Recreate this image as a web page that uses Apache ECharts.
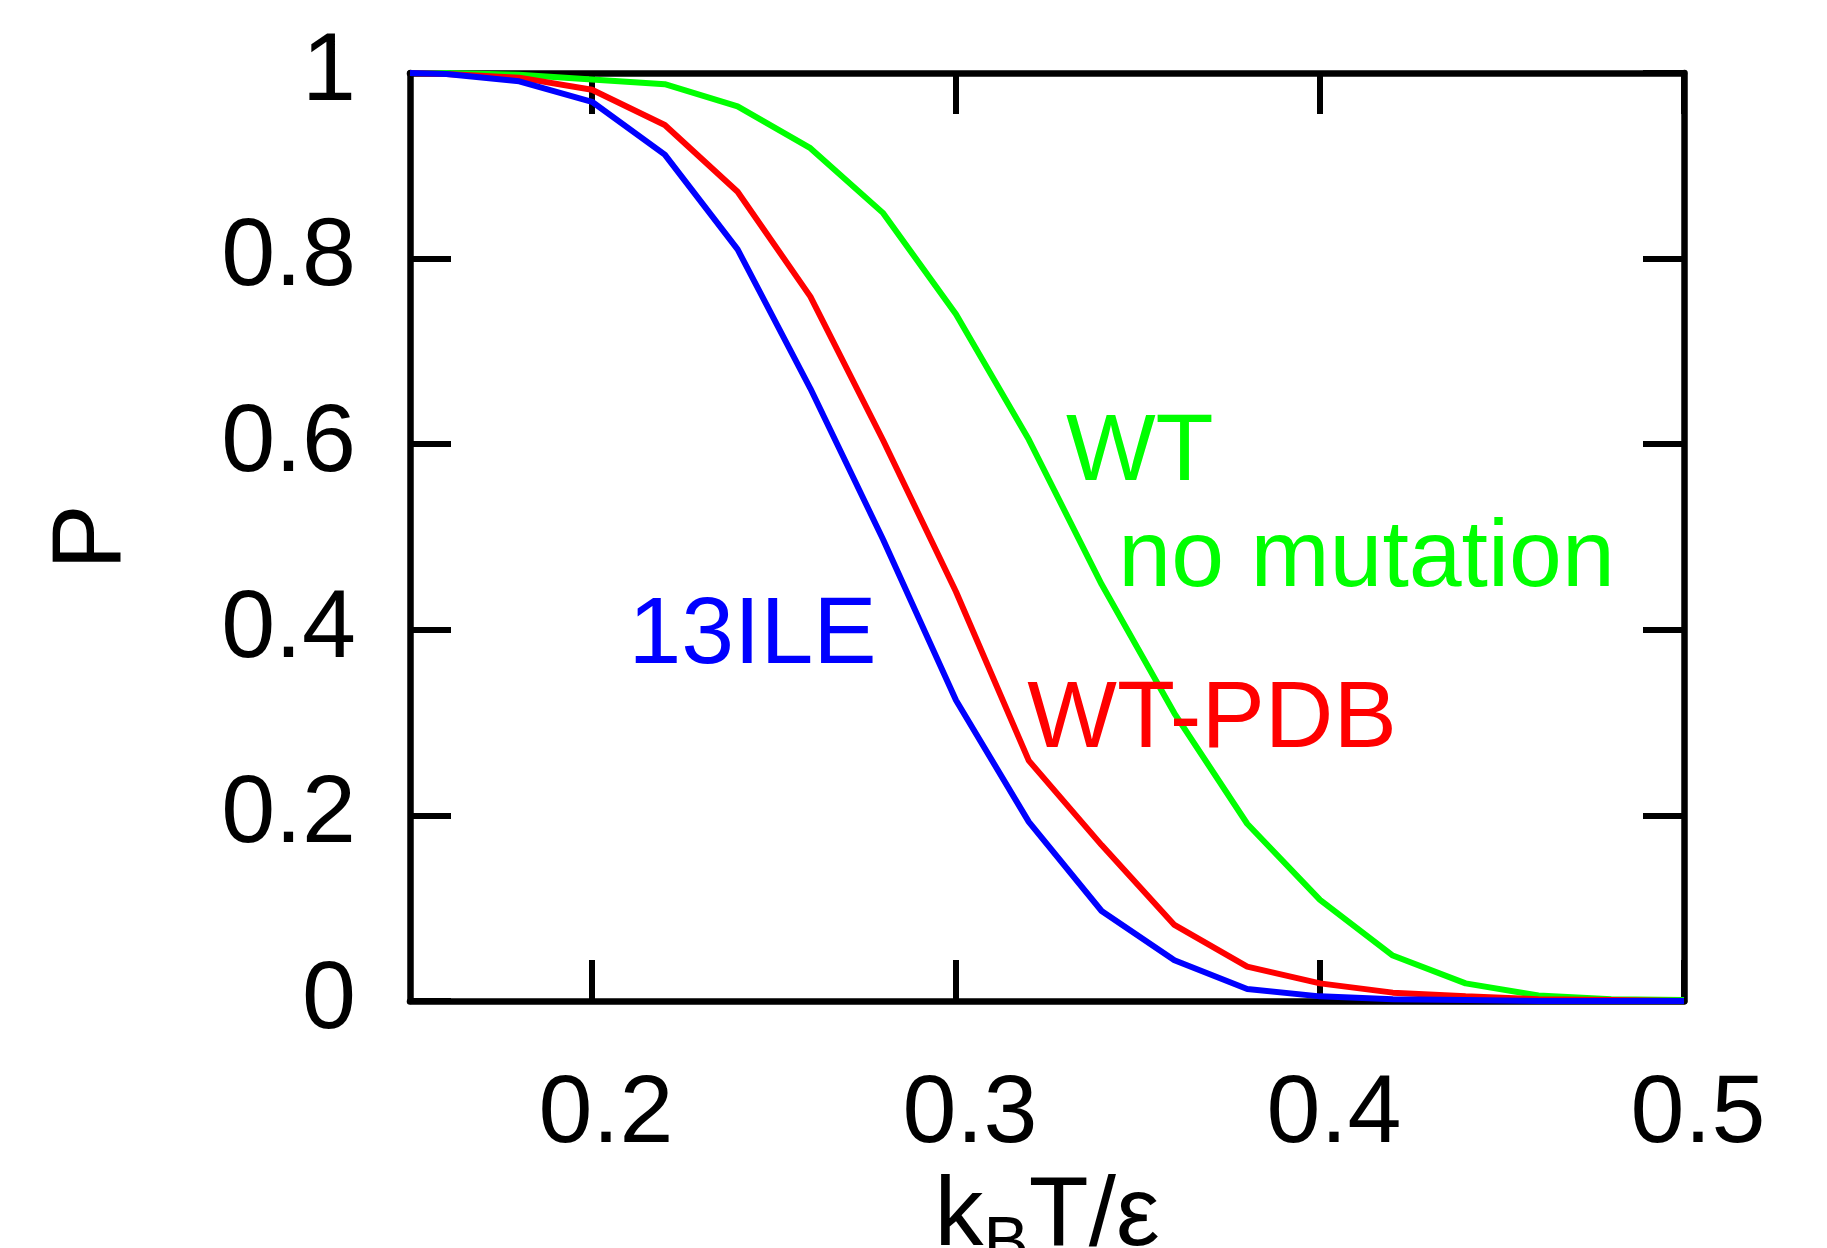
<!DOCTYPE html>
<html>
<head>
<meta charset="utf-8">
<script src="https://cdn.jsdelivr.net/npm/echarts@6/dist/echarts.min.js"></script>
<style>
  html, body { margin: 0; padding: 0; background: #fff; }
  #main { width: 1827px; height: 1248px; }
</style>
</head>
<body>
<div id="main"></div>
<script>
// temperature k_B T / epsilon
var temps = [0.15, 0.16, 0.18, 0.20, 0.22, 0.24, 0.26, 0.28, 0.30, 0.32, 0.34, 0.36, 0.38, 0.40, 0.42, 0.44, 0.46, 0.48, 0.50];
// P for each protein
var ile13 = [1.0, 0.999, 0.991, 0.969, 0.912, 0.810, 0.660, 0.497, 0.324, 0.193, 0.097, 0.044, 0.013, 0.005, 0.002, 0.001, 0.0, 0.0, 0.0];
var wtPdb = [1.0, 0.999, 0.995, 0.982, 0.944, 0.872, 0.759, 0.604, 0.441, 0.259, 0.168, 0.082, 0.037, 0.019, 0.009, 0.005, 0.002, 0.001, 0.0];
var wtNoMut = [1.0, 1.0, 0.998, 0.993, 0.988, 0.964, 0.919, 0.849, 0.740, 0.605, 0.449, 0.310, 0.191, 0.109, 0.049, 0.019, 0.006, 0.002, 0.001];
var xTicks = [0.2, 0.3, 0.4, 0.5];

var seriesNames = ['13ILE', 'WT-PDB', 'WT'];
var seriesColors = ['#0000ff', '#ff0000', '#00ff00'];

function pairs(ys) {
  return temps.map(function (t, i) { return [t, ys[i]]; });
}

var FONT = 'Liberation Sans';
var chart = echarts.init(document.getElementById('main'), null, { renderer: 'canvas' });

// curve labels, written inside the plot at data coordinates
function textMark(items, color) {
  return {
    symbol: 'circle',
    symbolSize: 0,
    silent: true,
    data: items,
    label: {
      show: true,
      position: 'right',
      distance: 0,
      formatter: '{b}',
      color: color,
      fontSize: 95,
      fontFamily: FONT
    }
  };
}

var frameLine = { show: true, onZero: false, lineStyle: { color: '#000', width: 6.5 } };
var innerTick = { show: true, inside: true, length: 41, lineStyle: { color: '#000', width: 6 } };

chart.setOption({
  animation: false,
  backgroundColor: '#fff',
  grid: { left: 410, right: 143, top: 73, bottom: 247, outerBoundsMode: 'none', containLabel: false },
  xAxis: [{
    type: 'value',
    min: 0.15,
    max: 0.5,
    position: 'bottom',
    name: '{a|k}{s|B}{a|T/ε}',
    nameLocation: 'middle',
    nameGap: 150,
    nameTextStyle: {
      rich: {
        a: { fontSize: 98, fontFamily: FONT, color: '#000' },
        s: { fontSize: 68, fontFamily: FONT, color: '#000', verticalAlign: 'bottom', padding: [55, 0, 0, 0] }
      }
    },
    axisLine: frameLine,
    axisTick: Object.assign({ customValues: xTicks }, innerTick),
    axisLabel: {
      customValues: xTicks, fontSize: 97, fontFamily: FONT, color: '#000',
      margin: 66, padding: [0, 0, 0, 28]
    },
    splitLine: { show: false }
  }, {
    type: 'value',
    min: 0.15,
    max: 0.5,
    position: 'top',
    axisLine: frameLine,
    axisTick: Object.assign({ customValues: xTicks }, innerTick),
    axisLabel: { show: false },
    splitLine: { show: false }
  }],
  yAxis: [{
    type: 'value',
    min: 0,
    max: 1,
    interval: 0.2,
    position: 'left',
    name: 'P',
    nameLocation: 'middle',
    nameGap: 268,
    nameTextStyle: { fontSize: 98, fontFamily: FONT, color: '#000' },
    axisLine: frameLine,
    axisTick: innerTick,
    axisLabel: { fontSize: 97, fontFamily: FONT, color: '#000', margin: 54 },
    splitLine: { show: false }
  }, {
    type: 'value',
    min: 0,
    max: 1,
    interval: 0.2,
    position: 'right',
    axisLine: frameLine,
    axisTick: innerTick,
    axisLabel: { show: false },
    splitLine: { show: false }
  }],
  series: [{
    name: seriesNames[0],
    type: 'line',
    data: pairs(ile13),
    showSymbol: false,
    lineStyle: { color: seriesColors[0], width: 6 },
    z: 3,
    markPoint: textMark([{ name: '13ILE', coord: [0.210, 0.392] }], seriesColors[0])
  }, {
    name: seriesNames[1],
    type: 'line',
    data: pairs(wtPdb),
    showSymbol: false,
    lineStyle: { color: seriesColors[1], width: 6 },
    z: 2,
    markPoint: textMark([{ name: 'WT-PDB', coord: [0.3196, 0.302] }], seriesColors[1])
  }, {
    name: seriesNames[2],
    type: 'line',
    data: pairs(wtNoMut),
    showSymbol: false,
    lineStyle: { color: seriesColors[2], width: 6 },
    z: 1,
    markPoint: textMark([
      { name: 'WT', coord: [0.3302, 0.590] },
      { name: 'no mutation', coord: [0.3446, 0.475] }
    ], seriesColors[2])
  }]
});
</script>
</body>
</html>
